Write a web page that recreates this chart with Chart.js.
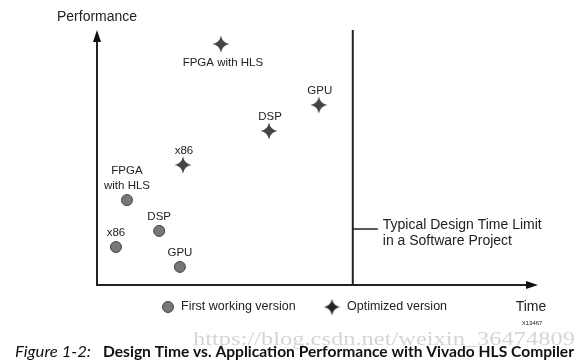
<!DOCTYPE html>
<html><head><meta charset="utf-8">
<script src="https://cdn.jsdelivr.net/npm/chart.js@4/dist/chart.umd.min.js"></script>
<style>html,body{margin:0;padding:0;background:#fff;}canvas{display:block;}</style>
</head><body>
<canvas id="c" width="576" height="362"></canvas>
<script>
// Data (relative time / performance units, 0..100)
const firstLabels = ["FPGA\nwith HLS", "DSP", "x86", "GPU"];
const firstTime = [6.8, 14.1, 4.3, 18.8];
const firstPerf = [33.3, 21.2, 14.9, 7.1];
const optLabels = ["FPGA with HLS", "GPU", "DSP", "x86"];
const optTime = [28.1, 50.3, 39.0, 19.5];
const optPerf = [94.5, 70.6, 60.4, 47.1];
const optLabelBelow = [true, false, false, false];
const timeLimit = 58.0;

function makeStar(size, color) {
  const c = document.createElement('canvas');
  c.width = size; c.height = size;
  const g = c.getContext('2d');
  const m = size / 2, r = size / 2 - 0.5, k = 1.3;
  g.fillStyle = color;
  g.beginPath();
  g.moveTo(m, m - r);
  g.quadraticCurveTo(m + k, m - k, m + r, m);
  g.quadraticCurveTo(m + k, m + k, m, m + r);
  g.quadraticCurveTo(m - k, m + k, m - r, m);
  g.quadraticCurveTo(m - k, m - k, m, m - r);
  g.fill();
  return c;
}
const star = makeStar(18, '#444');
const starSmall = makeStar(17, '#222');

const overlay = {
  id: 'overlay',
  afterDraw(chart) {
    const ctx = chart.ctx, xs = chart.scales.x, ys = chart.scales.y;
    const x0 = xs.getPixelForValue(0), x1 = xs.getPixelForValue(100);
    const y0 = ys.getPixelForValue(0), y1 = ys.getPixelForValue(100);
    ctx.save();
    ctx.strokeStyle = '#222'; ctx.fillStyle = '#111'; ctx.lineWidth = 2;
    // y axis
    ctx.beginPath(); ctx.moveTo(x0, y0 + 1); ctx.lineTo(x0, y1 + 10); ctx.stroke();
    ctx.beginPath(); ctx.moveTo(x0, y1); ctx.lineTo(x0 - 4, y1 + 12); ctx.lineTo(x0 + 4, y1 + 12); ctx.closePath(); ctx.fill();
    // x axis
    ctx.beginPath(); ctx.moveTo(x0 - 1, y0); ctx.lineTo(x1 - 10, y0); ctx.stroke();
    ctx.beginPath(); ctx.moveTo(x1, y0); ctx.lineTo(x1 - 12, y0 - 4); ctx.lineTo(x1 - 12, y0 + 4); ctx.closePath(); ctx.fill();
    // time limit line
    const tx = xs.getPixelForValue(timeLimit);
    ctx.beginPath(); ctx.moveTo(tx, y0); ctx.lineTo(tx, y1); ctx.stroke();
    ctx.lineWidth = 1.5;
    ctx.beginPath(); ctx.moveTo(tx, 229); ctx.lineTo(tx + 25, 229); ctx.stroke();

    ctx.fillStyle = '#222';
    ctx.textBaseline = 'middle';
    ctx.font = '14px "Liberation Sans", Arial, sans-serif';
    ctx.textAlign = 'left';
    ctx.fillText('Typical Design Time Limit', tx + 30, 225);
    ctx.fillText('in a Software Project', tx + 30, 241);
    ctx.fillText('Performance', 57, 17);
    ctx.textAlign = 'center';
    ctx.fillText('Time', 531, 307);
    ctx.font = '6px "Liberation Sans", Arial, sans-serif';
    ctx.fillText('X13467', 532, 323);

    // point labels
    ctx.font = '11.5px "Liberation Sans", Arial, sans-serif';
    const m0 = chart.getDatasetMeta(0), m1 = chart.getDatasetMeta(1);
    m0.data.forEach((el, i) => {
      const lines = firstLabels[i].split('\n');
      lines.forEach((ln, j) => {
        ctx.fillText(ln, el.x, el.y - 14 - (lines.length - 1 - j) * 15);
      });
    });
    m1.data.forEach((el, i) => {
      ctx.fillText(optLabels[i], el.x + (optLabelBelow[i] ? 2 : 1), el.y + (optLabelBelow[i] ? 19 : -14));
    });

    // legend
    ctx.font = '12.5px "Liberation Sans", Arial, sans-serif';
    ctx.textAlign = 'left';
    ctx.beginPath(); ctx.arc(168, 307, 5.5, 0, Math.PI * 2);
    ctx.fillStyle = '#777'; ctx.fill(); ctx.strokeStyle = '#444'; ctx.lineWidth = 1; ctx.stroke();
    ctx.fillStyle = '#222';
    ctx.fillText('First working version', 181, 307);
    ctx.drawImage(starSmall, 332 - 8.5, 307 - 8.5);
    ctx.fillText('Optimized version', 347, 307);

    // watermark
    ctx.fillStyle = 'rgba(150,150,150,0.4)';
    ctx.font = '19px "Liberation Serif", "DejaVu Serif", serif';
    const wm = 'https://blog.csdn.net/weixin_36474809';
    const ww = ctx.measureText(wm).width;
    ctx.save(); ctx.translate(193, 340); ctx.scale(382 / ww, 1); ctx.fillText(wm, 0, 0); ctx.restore();

    // caption
    ctx.fillStyle = '#111';
    ctx.font = 'italic 15px Lato, "Open Sans", sans-serif';
    const fig = 'Figure 1-2:';
    const fw = ctx.measureText(fig).width;
    ctx.save(); ctx.translate(15, 352); ctx.scale(76 / fw, 1); ctx.fillText(fig, 0, 0); ctx.restore();
    ctx.font = 'bold 15px Lato, "Open Sans", sans-serif';
    const cap = 'Design Time vs. Application Performance with Vivado HLS Compiler';
    const cw = ctx.measureText(cap).width;
    ctx.save(); ctx.translate(103, 352); ctx.scale(471 / cw, 1); ctx.fillText(cap, 0, 0); ctx.restore();
    ctx.restore();
  }
};

new Chart(document.getElementById('c'), {
  type: 'scatter',
  data: {
    datasets: [
      {
        label: 'First working version',
        data: firstTime.map((x, i) => ({ x, y: firstPerf[i] })),
        pointStyle: 'circle', pointRadius: 5.5, pointHoverRadius: 5.5,
        backgroundColor: '#777', borderColor: '#444', borderWidth: 1, clip: false
      },
      {
        label: 'Optimized version',
        data: optTime.map((x, i) => ({ x, y: optPerf[i] })),
        pointStyle: star, pointRadius: 9, clip: false
      }
    ]
  },
  options: {
    responsive: false, animation: false, devicePixelRatio: 1,
    layout: { padding: { left: 97, right: 38, top: 30, bottom: 77 } },
    plugins: { legend: { display: false }, tooltip: { enabled: false } },
    scales: {
      x: { type: 'linear', min: 0, max: 100, display: false },
      y: { type: 'linear', min: 0, max: 100, display: false }
    }
  },
  plugins: [overlay]
});
</script>
</body></html>
